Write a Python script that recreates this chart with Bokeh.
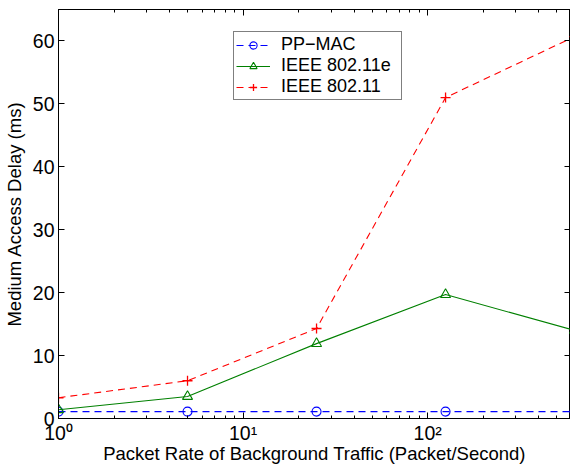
from bokeh.plotting import figure
from bokeh.models import (Range1d, LogAxis, LinearAxis, FixedTicker,
                          Legend, LegendItem, ColumnDataSource)
from bokeh.embed import file_html
from bokeh.resources import INLINE

rates = [1, 5, 25, 125, 625]
pp_mac = [1.1, 1.1, 1.1, 1.1, 1.1]
ieee_e = [1.4, 3.5, 11.9, 19.7, 14.0]
ieee = [3.3, 6.0, 14.3, 51.0, 60.7]
y_ticks = [0, 10, 20, 30, 40, 50, 60]
x_ticks = [1, 10, 100]
x_tick_labels = ["10\u2070", "10\u00b9", "10\u00b2"]
x_minor = [2, 3, 4, 5, 6, 7, 8, 9, 20, 30, 40, 50, 60, 70, 80, 90, 200, 300, 400, 500]

FONT = "Liberation Sans"

p = figure(width=570, height=467, x_axis_type="log",
           x_range=Range1d(1, 594), y_range=Range1d(0, 65),
           output_backend="svg", toolbar_location=None,
           min_border_left=53, min_border_right=0, min_border_top=9,
           min_border_bottom=49)
p.background_fill_color = "white"
p.border_fill_color = "white"
p.outline_line_color = "black"
p.grid.visible = False

xa = p.xaxis[0]
xa.ticker = FixedTicker(ticks=x_ticks, minor_ticks=x_minor)
xa.major_label_overrides = dict(zip(x_ticks, x_tick_labels))
xa.major_label_text_font_size = "19.5px"
xa.major_label_standoff = 3
xa.axis_label = "Packet Rate of Background Traffic (Packet/Second)"
xa.axis_label_standoff = -4
ya = p.yaxis[0]
ya.ticker = FixedTicker(ticks=y_ticks)
ya.axis_label = "Medium Access Delay (ms)"
ya.major_label_text_font_size = "19.5px"
ya.major_label_standoff = 4
ya.axis_label_standoff = 5

for ax in (xa, ya):
    ax.axis_line_color = "black"
    ax.major_tick_line_color = "black"
    ax.minor_tick_line_color = "black"
    ax.major_tick_in = 6
    ax.major_tick_out = 0
    ax.minor_tick_in = 3
    ax.minor_tick_out = 0
    ax.major_label_text_font = FONT
    ax.major_label_text_color = "black"
    ax.axis_label_text_font = FONT
    ax.axis_label_text_font_size = "18.5px"
    ax.axis_label_text_font_style = "normal"
    ax.axis_label_text_color = "black"
ya.minor_tick_line_color = None

# top and right tick-only axes (MATLAB box)
top = LogAxis(ticker=FixedTicker(ticks=x_ticks, minor_ticks=x_minor),
              major_label_text_font_size="0px", major_label_standoff=0,
              major_tick_in=6, major_tick_out=0, minor_tick_in=3, minor_tick_out=0,
              axis_line_color="black", major_tick_line_color="black",
              minor_tick_line_color="black")
top.major_label_overrides = {t: "" for t in x_ticks}
right = LinearAxis(ticker=FixedTicker(ticks=y_ticks),
                   major_label_text_font_size="0px", major_label_standoff=0,
                   major_tick_in=6, major_tick_out=0, minor_tick_line_color=None,
                   axis_line_color="black", major_tick_line_color="black")
right.major_label_overrides = {t: "" for t in y_ticks}
p.add_layout(top, "above")
p.add_layout(right, "right")

src = ColumnDataSource(dict(x=rates, pp=pp_mac, e=ieee_e, r=ieee))

blue = "#0000ff"
green = "#008000"
red = "#ff0000"

l1 = p.line("x", "pp", source=src, color=blue, line_width=1.1, line_dash="7 5")
m1 = p.scatter("x", "pp", source=src, marker="circle", size=9, fill_color=None,
               line_color=blue, line_width=1.1)
l2 = p.line("x", "e", source=src, color=green, line_width=1.1)
m2 = p.scatter("x", "e", source=src, marker="triangle", size=10, fill_color=None,
               line_color=green, line_width=1.1)
l3 = p.line("x", "r", source=src, color=red, line_width=1.1, line_dash="7 5")
m3 = p.scatter("x", "r", source=src, marker="cross", size=10,
               line_color=red, line_width=1.3)

legend = Legend(items=[LegendItem(label="PP\u2212MAC", renderers=[l1, m1]),
                       LegendItem(label="IEEE 802.11e", renderers=[l2, m2]),
                       LegendItem(label="IEEE 802.11", renderers=[l3, m3])],
                location=(175, 318), orientation="vertical")
legend.label_text_font = FONT
legend.label_text_font_size = "18px"
legend.label_text_color = "black"
legend.border_line_color = "black"
legend.border_line_width = 1
legend.background_fill_color = "white"
legend.background_fill_alpha = 1
legend.glyph_width = 34
legend.glyph_height = 18
legend.label_height = 18
legend.label_width = 118
legend.label_standoff = 11
legend.spacing = 0
legend.padding = 2
legend.margin = 0
p.add_layout(legend, "center")

open("out.html", "w").write(file_html(p, INLINE))
